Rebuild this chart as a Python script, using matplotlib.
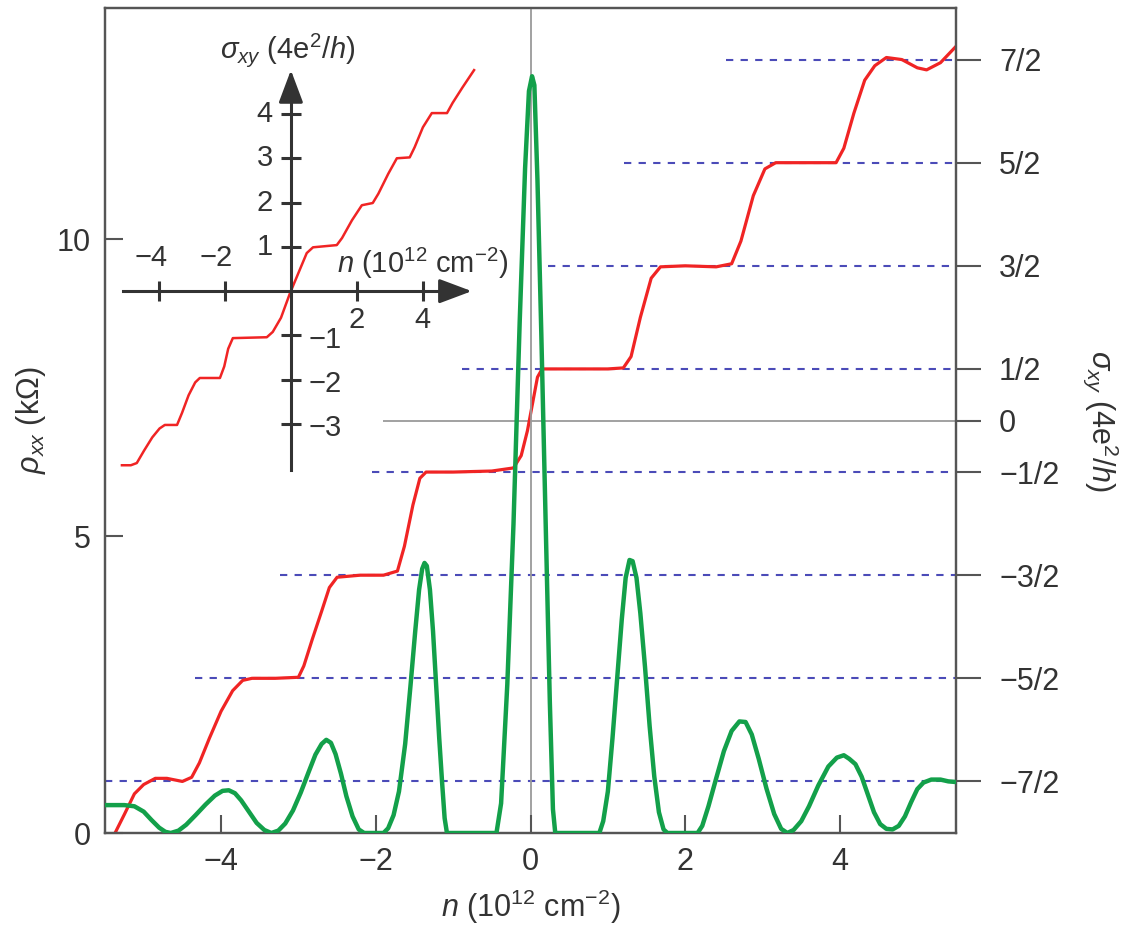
import matplotlib.pyplot as plt

plt.rcParams['font.family'] = ['Liberation Sans', 'DejaVu Sans']
plt.rcParams['mathtext.fontset'] = 'custom'
plt.rcParams['mathtext.rm'] = 'Liberation Sans'
plt.rcParams['mathtext.it'] = 'Liberation Sans:italic'

# Hall conductivity sigma_xy (4e^2/h) vs n, main panel (right axis)
n_sxy = [-5.37, -5.25, -5.12, -5.0, -4.85, -4.7, -4.5, -4.38, -4.28, -4.15, -4.0,
         -3.85, -3.72, -3.6, -3.3, -3.0, -2.93, -2.82, -2.7, -2.6, -2.5, -2.2,
         -1.9, -1.72, -1.63, -1.52, -1.43, -1.35, -1.0, -0.5, -0.22, -0.12, -0.04,
         0.03, 0.09, 0.15, 0.5, 1.0, 1.2, 1.3, 1.42, 1.56, 1.68, 2.0, 2.4, 2.6,
         2.72, 2.88, 3.03, 3.17, 3.6, 3.95, 4.05, 4.18, 4.32, 4.45, 4.6, 4.8,
         5.0, 5.12, 5.3, 5.49]
sxy = [-4.0, -3.82, -3.62, -3.53, -3.47, -3.47, -3.5, -3.46, -3.32, -3.08, -2.82,
       -2.62, -2.52, -2.5, -2.5, -2.49, -2.38, -2.12, -1.85, -1.62, -1.52, -1.5,
       -1.5, -1.46, -1.22, -0.82, -0.56, -0.5, -0.5, -0.49, -0.46, -0.34, -0.1,
       0.18, 0.42, 0.5, 0.5, 0.5, 0.51, 0.62, 1.0, 1.38, 1.49, 1.5, 1.49, 1.52,
       1.74, 2.18, 2.44, 2.5, 2.5, 2.5, 2.64, 2.98, 3.3, 3.44, 3.52, 3.5,
       3.42, 3.4, 3.47, 3.62]

# Longitudinal resistivity rho_xx (kOhm) vs n (left axis)
n_rxx = [-5.5, -5.25, -5.12, -5.0, -4.9, -4.8, -4.72, -4.65, -4.55, -4.45, -4.33,
         -4.2, -4.08, -3.98, -3.9, -3.82, -3.74, -3.64, -3.54, -3.44, -3.35, -3.26,
         -3.17, -3.07, -2.97, -2.87, -2.78, -2.7, -2.64, -2.58, -2.52, -2.45, -2.38,
         -2.3, -2.22, -2.15, -1.9, -1.84, -1.77, -1.7, -1.62, -1.55, -1.49, -1.44,
         -1.4, -1.37, -1.34, -1.3, -1.26, -1.22, -1.18, -1.14, -1.11, -1.08,
         -0.44, -0.38, -0.3, -0.22, -0.14, -0.07, -0.02, 0.02, 0.05, 0.09, 0.14,
         0.2, 0.25, 0.29, 0.32,
         0.89, 0.94, 1.0, 1.06, 1.12, 1.18, 1.23, 1.28, 1.32, 1.37, 1.42, 1.48,
         1.54, 1.6, 1.66, 1.72, 1.77,
         2.16, 2.22, 2.3, 2.4, 2.5, 2.6, 2.7, 2.78, 2.86, 2.95, 3.05, 3.15, 3.24,
         3.32, 3.4, 3.5, 3.6, 3.72, 3.85, 3.96, 4.05, 4.12, 4.2, 4.28, 4.36, 4.44,
         4.52, 4.6, 4.68, 4.76, 4.84, 4.92, 5.0, 5.08, 5.18, 5.3, 5.4, 5.49]
rxx = [0.47, 0.47, 0.45, 0.36, 0.22, 0.09, 0.02, 0.0, 0.04, 0.14, 0.3,
       0.48, 0.63, 0.71, 0.72, 0.67, 0.55, 0.36, 0.17, 0.05, 0.0, 0.04,
       0.16, 0.38, 0.68, 1.02, 1.32, 1.5, 1.57, 1.52, 1.33, 1.0, 0.62,
       0.28, 0.06, 0.0, 0.0, 0.08, 0.3, 0.7, 1.5, 2.5, 3.4, 4.1,
       4.45, 4.55, 4.5, 4.1, 3.4, 2.5, 1.6, 0.8, 0.25, 0.0,
       0.0, 0.5, 2.5, 5.2, 8.6, 11.2, 12.5, 12.75, 12.6, 11.0, 8.4,
       5.0, 2.2, 0.4, 0.0,
       0.0, 0.2, 0.7, 1.6, 2.6, 3.6, 4.3, 4.6, 4.58, 4.3, 3.7, 2.8,
       1.8, 0.95, 0.35, 0.06, 0.0,
       0.0, 0.12, 0.45, 0.92, 1.38, 1.72, 1.88, 1.87, 1.66, 1.25, 0.75, 0.32, 0.07,
       0.0, 0.05, 0.2, 0.45, 0.8, 1.12, 1.27, 1.31, 1.25, 1.16, 0.95, 0.65, 0.35,
       0.15, 0.07, 0.06, 0.12, 0.28, 0.52, 0.74, 0.85, 0.9, 0.9, 0.87, 0.86]

# Inset: sigma_xy vs n
n_in = [-5.12, -4.85, -4.67, -4.45, -4.2, -3.98, -3.82, -3.45, -3.3, -3.1, -2.9,
        -2.76, -2.15, -2.02, -1.9, -1.76, -0.73, -0.55, -0.3, -0.03, 0.25, 0.48,
        0.67, 1.39, 1.55, 1.85, 2.15, 2.48, 2.65, 2.95, 3.21, 3.6, 3.75, 4.0,
        4.27, 4.73, 4.9, 5.2, 5.55]
sxy_in = [-3.93, -3.93, -3.88, -3.6, -3.3, -3.1, -3.02, -3.02, -2.75, -2.35, -2.06,
          -1.96, -1.96, -1.7, -1.3, -1.06, -1.04, -0.92, -0.6, -0.05, 0.45, 0.86,
          0.99, 1.04, 1.2, 1.6, 1.94, 1.99, 2.2, 2.65, 3.0, 3.02, 3.25, 3.7,
          4.02, 4.02, 4.25, 4.6, 4.99]

half_levels = [3.5, 2.5, 1.5, 0.5, -0.5, -1.5, -2.5, -3.5]
dash_start = [2.53, 1.21, 0.22, -0.88, -2.05, -3.24, -4.34, -5.5]
right_ticks = [3.5, 2.5, 1.5, 0.5, 0, -0.5, -1.5, -2.5, -3.5]
right_labels = ['7/2', '5/2', '3/2', '1/2', '0', '\u22121/2', '\u22123/2', '\u22125/2', '\u22127/2']
inset_xticks = [-4, -2, 2, 4]
inset_yticks = [-3, -2, -1, 1, 2, 3, 4]

RED = '#f02424'
GREEN = '#13a04a'
DASH = '#4b4bb8'
TXT = '#333333'
SPINE = '#555555'
FS = 22
FS_IN = 21

W, H = 1135, 930
fig = plt.figure(figsize=(W / 100, H / 100), dpi=100)
ax = fig.add_axes([105 / W, 1 - 833 / H, 851 / W, 825 / H])
ax2 = ax.twinx()
ax.set_zorder(2)
ax2.set_zorder(1)
ax.patch.set_visible(False)

ax.set_xlim(-5.5, 5.5)
ax.set_ylim(0, 13.9)
ax2.set_ylim(-4, 4)

# reference lines
ax.axvline(0, color='#9a9a9a', lw=1.3, zorder=1)
ax2.hlines(0, -1.91, 5.5, color='#9a9a9a', lw=1.3)
ax2.hlines(half_levels, dash_start, 5.5, color=DASH, lw=1.5,
           linestyles=(0, (3.5, 3.5)))

ax2.plot(n_sxy, sxy, color=RED, lw=2.3, solid_joinstyle='round')
ax.plot(n_rxx, rxx, color=GREEN, lw=3.2, solid_joinstyle='round', zorder=3)

for a in (ax, ax2):
    for s in a.spines.values():
        s.set_color(SPINE)
        s.set_linewidth(1.6)

ax.set_xticks([-4, -2, 0, 2, 4])
ax.set_yticks([0, 5, 10])
ax.tick_params(direction='in', length=13, width=1.5, color=SPINE,
               labelsize=FS, labelcolor=TXT, pad=10, top=False, right=False)
ax2.set_yticks(right_ticks)
ax2.set_yticklabels(right_labels)
ax2.tick_params(axis='y', direction='out', length=18, width=1.5, color=SPINE,
                labelsize=FS, labelcolor=TXT, pad=13)

ax.set_xlabel('$n$ (10$^{12}$ cm$^{\u22122}$)', fontsize=FS, color=TXT, va='center')
ax.xaxis.set_label_coords(0.5, -0.09)
ax.set_ylabel('$\\rho_{xx}$ (k\u03a9)', fontsize=FS, color=TXT, va='center')
ax.yaxis.set_label_coords(-0.087, 0.5)
ax2.set_ylabel('$\\sigma_{xy}$ (4e$^2$/$h$)', fontsize=FS, color=TXT,
               rotation=270, va='center', ha='center')
ax2.yaxis.set_label_coords(1.17, 0.5)

# inset
axi = fig.add_axes([115 / W, 1 - 475 / H, 365 / W, 435 / H])
axi.set_zorder(3)
axi.patch.set_visible(False)
axi.set_xlim(-5.33, 5.73)
axi.set_ylim(-4.15, 5.67)
for s in ['top', 'right']:
    axi.spines[s].set_visible(False)
for s in ['left', 'bottom']:
    axi.spines[s].set_position(('data', 0))
    axi.spines[s].set_color(TXT)
    axi.spines[s].set_linewidth(2.2)
axi.spines['bottom'].set_bounds(-5.09, 5.1)
axi.spines['left'].set_bounds(-4.04, 4.6)
axi.set_xticks(inset_xticks)
axi.set_yticks(inset_yticks)
axi.tick_params(direction='inout', length=14, width=2.2, color=TXT,
                labelbottom=False, labelleft=False)

arrow = dict(arrowstyle='-|>,head_length=0.8,head_width=0.3', mutation_scale=25,
             color=TXT, lw=2.2, shrinkA=0, shrinkB=0)
axi.annotate('', xy=(5.48, 0), xytext=(4.9, 0), arrowprops=arrow)
axi.annotate('', xy=(0, 4.99), xytext=(0, 4.4), arrowprops=arrow)

for v in inset_xticks:
    if v < 0:
        axi.annotate(f'\u2212{abs(v)}', (v, 0), xytext=(6, 24), textcoords='offset points',
                     ha='right', va='center', fontsize=FS_IN, color=TXT)
    else:
        axi.annotate(str(v), (v, 0), xytext=(0, -21), textcoords='offset points',
                     ha='center', va='center', fontsize=FS_IN, color=TXT)
for v in inset_yticks:
    if v > 0:
        axi.annotate(str(v), (0, v), xytext=(-13, 0), textcoords='offset points',
                     ha='right', va='center', fontsize=FS_IN, color=TXT)
    else:
        axi.annotate(f'\u2212{abs(v)}', (0, v), xytext=(13, -3), textcoords='offset points',
                     ha='left', va='center', fontsize=FS_IN, color=TXT)

axi.text(1.39, 0.63, '$n$ (10$^{12}$ cm$^{\u22122}$)', fontsize=FS_IN, color=TXT,
         ha='left', va='center')
axi.text(-0.1, 5.44, '$\\sigma_{xy}$ (4e$^2$/$h$)', fontsize=FS_IN, color=TXT,
         ha='center', va='center')

axi.plot(n_in, sxy_in, color=RED, lw=1.8, solid_joinstyle='round')

fig.savefig('out.png', dpi=100)
